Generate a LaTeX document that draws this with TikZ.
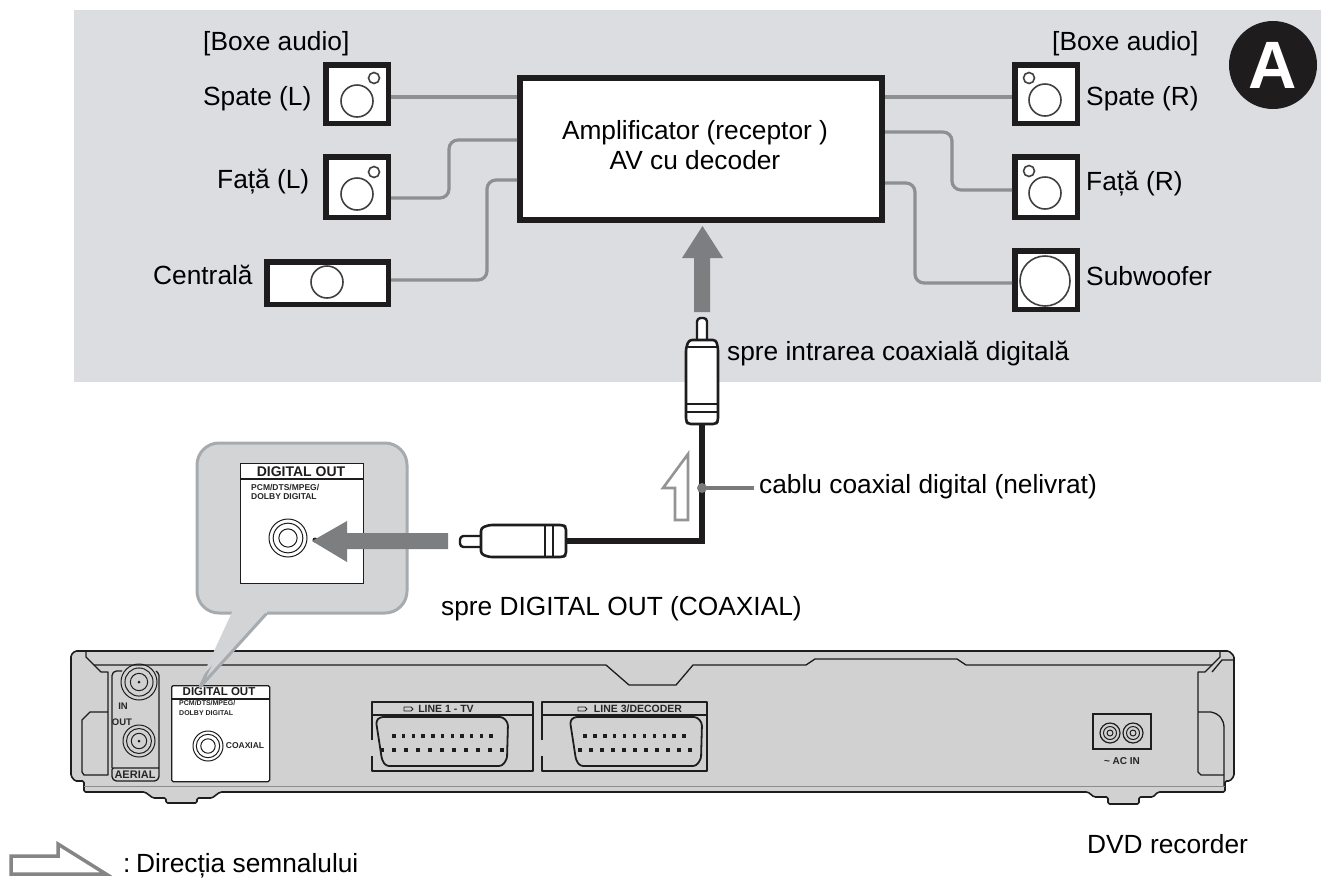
\documentclass[tikz,border=0pt]{standalone}
\usepackage{fontspec}
\setmainfont{Liberation Sans}
\usetikzlibrary{calc}
\definecolor{panelgray}{HTML}{DCDDE1}
\definecolor{wire}{HTML}{8C9090}
\definecolor{bodygray}{HTML}{D1D1D1}
\definecolor{callfill}{HTML}{D3D4D6}
\definecolor{callline}{HTML}{A5ABAF}
\definecolor{arrowgray}{HTML}{7C7E80}
\definecolor{ink}{HTML}{1E1C1C}
\tikzset{
 x=1pt,y=-1pt,
 lab/.style={font=\fontsize{26.3}{30}\selectfont,text=black,inner sep=0pt,anchor=base west},
 spk/.style={draw=ink,fill=white,line width=5.5pt,inner sep=0pt,minimum width=62.5pt},
 cone/.style={draw=black!75,line width=1.6pt,fill=white},
 wireline/.style={draw=wire,line width=3.2pt,rounded corners=9pt},
 dev/.style={draw=ink,line width=1.3pt,line join=round},
 tiny/.style={font=\fontsize{9.5}{10}\bfseries\selectfont,text=black!85,inner sep=0pt},
 ttl/.style={font=\fontsize{12.5}{13}\bfseries\selectfont,text=ink,inner sep=0pt},
}
\newcommand{\jack}[3]{% x y scale
 \begin{scope}[shift={(#1,#2)}]
 \draw[dev,line width=1pt] (0,0) circle[radius=#3];
 \draw[dev,line width=1pt] (0,0) circle[radius=#3*0.78];
 \draw[dev,line width=1pt] (0,0) circle[radius=#3*0.48];
 \end{scope}}
\newcommand{\pinrow}[4]{% x0 x1 y n
 \foreach \k in {0,...,#4}{\fill[ink] ({#1+(#2-#1)*\k/#4-1.7},{#3-1.7}) rectangle ++(3.4,3.4);}}
\newcommand{\scart}[4]{% frame x0 x1 shell x0 x1
 \draw[dev] (#1,740) -- (#1,702) -- (#2,702) -- (#2,771) -- (#1,771) -- (#1,756);
 \draw[dev] (#1,715) -- (#2,715);
 \draw[dev,line width=1.8pt,rounded corners=3pt,fill=bodygray] (#3,721) -- (#3+4,717) -- (#4-5,717) -- (#4,723) -- (#4-1,759) -- (#4-6,766) -- (#3+10,766) -- (#3+6,760) -- cycle;
}
\begin{document}
\begin{tikzpicture}
\useasboundingbox (0,0) rectangle (1321,879);
\fill[white] (0,0) rectangle (1321,879);
\fill[panelgray] (74,10) rectangle (1321,382);
% amplifier
\node[draw=ink,fill=white,line width=6pt,minimum width=362pt,minimum height=142pt,inner sep=0pt,anchor=north west] (amp) at (517,75) {};
\node[lab,anchor=base] (amp1) at (695,139) {Amplificator (receptor )};
\node[lab,anchor=base] (amp2) at (695,169) {AV cu decoder};
% speakers
\node[spk,minimum height=58.5pt,anchor=north west] (sl) at (323,62) {};
\draw[cone] (357,101) circle[radius=16]; \draw[cone] (374,78) circle[radius=5.5];
\node[spk,minimum height=60.5pt,anchor=north west] (fl) at (323,154) {};
\draw[cone] (357,194) circle[radius=16]; \draw[cone] (374,172) circle[radius=5.5];
\node[spk,minimum width=121.5pt,minimum height=42.5pt,anchor=north west] (cl) at (264,259) {};
\draw[cone] (327,282) circle[radius=16];
\node[spk,minimum height=58.5pt,anchor=north west] (sr) at (1012,62) {};
\draw[cone] (1045,100) circle[radius=16]; \draw[cone] (1029,78) circle[radius=5.5];
\node[spk,minimum height=60.5pt,anchor=north west] (fr) at (1012,154) {};
\draw[cone] (1045,193) circle[radius=16]; \draw[cone] (1029,171) circle[radius=5.5];
\node[spk,minimum height=58.5pt,anchor=north west] (sw) at (1012,248) {};
\draw[cone] (1045,281) circle[radius=25];
% wires
\coordinate (a1) at (517,97); \coordinate (a2) at (517,140); \coordinate (a3) at (517,180);
\coordinate (b1) at (885,97); \coordinate (b2) at (885,132); \coordinate (b3) at (885,183);
\draw[wireline] (sl.east |- a1) -- (a1);
\draw[wireline] (fl.east |- 0,198) -- (449,198) -- (449,140) -- (a2);
\draw[wireline] (cl.east |- 0,280) -- (487,280) -- (487,180) -- (a3);
\draw[wireline] (b1) -- (sr.west |- b1);
\draw[wireline] (b2) -- (952,132) -- (952,190) -- (fr.west |- 0,190);
\draw[wireline] (b3) -- (915,183) -- (915,283) -- (sw.west |- 0,283);
% speaker labels
\node[lab] (t1) at (203,50) {[Boxe audio]};
\node[lab] (t2) at (1052,50) {[Boxe audio]};
\node[lab] (t3) at (203,105) {Spate (L)};
\node[lab] (t4) at (217,188) {Față (L)};
\node[lab] (t5) at (153,284) {Centrală};
\node[lab] (t6) at (1086,105) {Spate (R)};
\node[lab] (t7) at (1086,190) {Față (R)};
\node[lab] (t8) at (1086,285) {Subwoofer};
% badge
\node[circle,fill=ink,minimum size=88pt,inner sep=0pt,text=white,font=\fontsize{67}{67}\bfseries\selectfont] (badge) at (1273,65) {A};
% big up arrow
\fill[arrowgray] (694,312) -- (694,258) -- (682,258) -- (702.5,226) -- (723,258) -- (710,258) -- (710,312) -- cycle;
% vertical plug
\draw[ink,line width=6pt] (702,424) -- (702,541) -- (566,541);
\draw[dev,line width=2.4pt,fill=white,rounded corners=3.5pt] (697,342) -- (697,318) -- (707,318) -- (707,342);
\draw[dev,line width=2.6pt,fill=white,rounded corners=3pt] (688,424) -- (686,421) -- (686,348) -- (689,340) -- (716,340) -- (718,348) -- (718,421) -- (716,424) -- cycle;
\draw[dev,line width=1.6pt] (687,347) -- (717,347) (687,404) -- (717,404) (687,412) -- (717,412);
% horizontal plug
\draw[dev,line width=2.4pt,fill=white,rounded corners=3.5pt] (484,536) -- (460,536) -- (460,547) -- (484,547);
\draw[dev,line width=2.6pt,fill=white,rounded corners=3pt] (566,527) -- (563,525) -- (489,525) -- (481,528) -- (481,554) -- (489,557) -- (563,557) -- (566,555) -- cycle;
\draw[dev,line width=1.6pt] (545,526) -- (545,556) (553,526) -- (553,556);
% outline arrow and dot
\draw[draw=black!42,line width=2.6pt,fill=white,line join=miter] (688,454) -- (663,488) -- (675,488) -- (675,520) -- (688,520) -- cycle;
\coordinate (cabledot) at (702,488); \coordinate (cablelab) at (754,488);
\draw[draw=black!52,line width=3.2pt] (cabledot) -- (cablelab);
\fill[black!52] (cabledot) circle[radius=5];
\node[lab] (t9) at (727,360) {spre intrarea coaxială digitală};
\node[lab] (t10) at (759,493) {cablu coaxial digital (nelivrat)};
\node[lab] (t11) at (441,615) {spre DIGITAL OUT (COAXIAL)};
% recorder body
\draw[dev,fill=bodygray,line width=1.6pt,rounded corners=1.5pt]
 (75,651) -- (1229,651) -- (1234,656) -- (1234,776) -- (1230,781) -- (1225,781) -- (1225,792) -- (1158,792) -- (1153,797) -- (1139,797) -- (1139,804) -- (1108,804) -- (1108,797) -- (1094,797) -- (1088,792) -- (220,792) -- (212,798) -- (197,798) -- (197,803) -- (166,803) -- (166,798) -- (153,798) -- (145,792) -- (84,792) -- (84,781) -- (75,781) -- (71,776) -- (71,655) -- cycle;
\draw[draw=black!45,line width=1pt] (84,786) -- (1225,786);
\draw[dev] (86,651) -- (86,657) -- (94,665) -- (606,665) -- (629,685) -- (676,685) -- (693,665) -- (806,665) -- (815,659) -- (957,659) -- (966,665) -- (1212,665) -- (1220,657) -- (1220,651);
\draw[dev] (94,665) -- (101,672) -- (108,672) -- (108,775) -- (84,775) -- (82,772) -- (82,720) -- (90,712) -- (108,712);
\draw[dev] (1212,665) -- (1205,672) -- (1198,672) -- (1198,772) -- (1201,775) -- (1224,775);
\draw[dev] (1198,712) -- (1211,712) .. controls (1220,714) and (1224,720) .. (1224,728) -- (1224,786);
\draw[dev] (1212,672) -- (1222,660) -- (1234,660);
% aerial
\draw[dev,rounded corners=1.5pt] (112,768) -- (112,674) -- (115,671) -- (122,671) (156,671) -- (159,674) -- (159,778) -- (156,781) -- (115,781) -- (112,778) -- (112,768) -- (159,768);
\jack{139}{682}{18} \jack{139}{741}{16}
\fill[ink] (139,682) circle[radius=1.5]; \fill[ink] (139,741) circle[radius=1.5];
\node[tiny] (in) at (123,706) {IN};
\node[tiny] (out) at (122,722) {OUT};
\node[tiny,font=\fontsize{11}{11}\bfseries\selectfont] (aer) at (135,775) {AERIAL};
% mini digital out
\node[draw=ink,fill=white,line width=1.3pt,rounded corners=1.5pt,minimum width=98pt,minimum height=96pt,inner sep=0pt,anchor=north west] (dmini) at (171,685) {};
\draw[dev] (dmini.west |- 0,699) -- (dmini.east |- 0,699);
\node[ttl,font=\fontsize{11.5}{12}\bfseries\selectfont] (dt) at (219,692) {DIGITAL OUT};
\node[tiny,font=\fontsize{7}{8}\bfseries\selectfont,anchor=west] (dt1) at (179,703) {PCM/DTS/MPEG/};
\node[tiny,font=\fontsize{7}{8}\bfseries\selectfont,anchor=west] (dt2) at (179,713) {DOLBY DIGITAL};
\jack{208}{746}{15}
\node[tiny,font=\fontsize{8.5}{9}\bfseries\selectfont] (cx) at (245,746) {COAXIAL};
% scarts
\scart{372}{533}{376}{508}
\pinrow{394}{491}{736}{10} \pinrow{382}{502}{750}{10}
\node[tiny,font=\fontsize{10.5}{11}\bfseries\selectfont] (l1) at (446,709) {LINE 1 - TV};
\draw[dev,line width=.8pt] (404,707) -- (411,707) -- (413,709) -- (411,711) -- (404,711) -- cycle;
\scart{542}{707}{570}{702}
\pinrow{585}{684}{736}{10} \pinrow{580}{690}{750}{10}
\node[tiny,font=\fontsize{10.5}{11}\bfseries\selectfont] (l3) at (638,709) {LINE 3/DECODER};
\draw[dev,line width=.8pt] (578,707) -- (585,707) -- (587,709) -- (585,711) -- (578,711) -- cycle;
% AC in
\draw[ink,line width=2.6pt] (1093,714) rectangle (1151,749);
\draw[dev,fill=bodygray,line width=1.2pt] (1110,733) circle[radius=10] (1133,733) circle[radius=10];
\draw[dev,line width=1pt] (1110,733) circle[radius=6.5] (1133,733) circle[radius=6.5] (1110,733) circle[radius=3] (1133,733) circle[radius=3];
\node[tiny,font=\fontsize{10}{11}\bfseries\selectfont] (ac) at (1122,761) {\textasciitilde\ AC IN};
% callout
\draw[draw=callline,fill=callfill,line width=3pt,line join=round] (235,613) -- (200,687) -- (267,613);
\draw[draw=callline,fill=callfill,line width=3pt,rounded corners=22pt] (235,613) -- (197,613) -- (197,443) -- (407,443) -- (407,613) -- (267,613);
\fill[callfill] (233,610) -- (203,675) -- (262,610) -- cycle;
\node[draw=ink,fill=white,line width=1.3pt,minimum width=123pt,minimum height=120pt,inner sep=0pt,anchor=north west] (dbig) at (240,463) {};
\draw[dev] (dbig.west |- 0,479) -- (dbig.east |- 0,479);
\node[ttl,font=\fontsize{14}{14}\bfseries\selectfont] (dbt) at (301,472) {DIGITAL OUT};
\node[tiny,anchor=west,font=\fontsize{8.5}{9}\bfseries\selectfont] (db1) at (251,487) {PCM/DTS/MPEG/};
\node[tiny,anchor=west,font=\fontsize{8.5}{9}\bfseries\selectfont] (db2) at (251,497) {DOLBY DIGITAL};
\jack{288}{538}{19}
\fill[ink] (315,540) circle[radius=2.5];
\fill[arrowgray] (448,533) -- (347,533) -- (347,521) -- (312,541) -- (347,562) -- (347,549) -- (448,549) -- cycle;
% recorder caption, legend
\node[lab] (t12) at (1087,853) {DVD recorder};
\draw[draw=black!48,line width=3.5pt,fill=white,line join=miter] (11,856) -- (58,856) -- (58,844) -- (106,874) -- (11,874) -- cycle;
\node[lab] (t13) at (123,872) {:};
\node[lab] (t14) at (136,872) {Direcția semnalului};
\end{tikzpicture}
\end{document}
